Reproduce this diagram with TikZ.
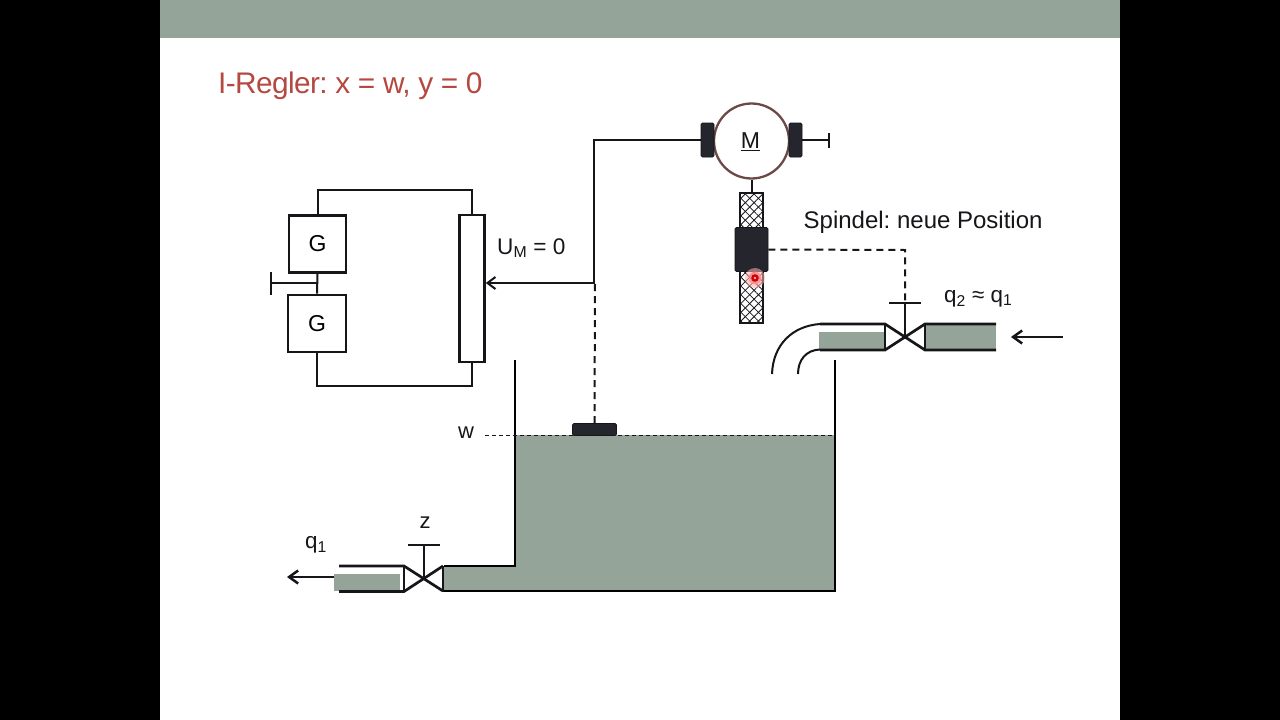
\documentclass[tikz,border=0pt]{standalone}
\usepackage{fontspec}
\setmainfont{Liberation Sans}
\usetikzlibrary{patterns.meta,arrows.meta}
\definecolor{band}{HTML}{95A498}
\definecolor{ink}{HTML}{16161A}
\definecolor{dark}{HTML}{25252E}
\definecolor{titlered}{HTML}{B5483F}
\definecolor{ring}{HTML}{6B4A46}
\tikzset{
  x=1pt,y=-1pt,
  wire/.style={draw=ink,line width=2pt},
  thick wire/.style={draw=ink,line width=2.7pt},
  genbox/.style={draw=ink,line width=2.6pt,fill=white,minimum width=57pt,minimum height=57pt,inner sep=0pt,font=\fontsize{23}{25}\selectfont},
  txt/.style={inner sep=0pt,text=ink,font=\fontsize{24}{28}\selectfont},
  fluid/.style={fill=band,draw=none},
  darkpart/.style={fill=dark,draw=ink,line width=.8pt,rounded corners=1.5pt},
  arrowline/.style={draw=ink,line width=2.5pt,-{Straight Barb[length=9pt,width=13pt,line width=2.5pt]}},
  thin arrow/.style={draw=ink,line width=1.9pt,-{Straight Barb[length=8pt,width=12pt,line width=2pt]}},
  dashline/.style={draw=ink,line width=2pt,dash pattern=on 7pt off 5pt},
  levelline/.style={draw=ink,line width=1pt,dash pattern=on 4pt off 3pt},
}
\begin{document}
\frenchspacing
\begin{tikzpicture}
\useasboundingbox (0,0) rectangle (1280,720);
% slide
\fill[black] (0,0) rectangle (1280,720);
\fill[white] (160,0) rectangle (1120,720);
\fill[band] (160,0) rectangle (1120,38);
\node[anchor=west,inner sep=0pt,text=titlered,font=\fontsize{29.8}{34}\selectfont] (title) at (218,85.5) {\addfontfeatures{LetterSpace=-2}I-Regler: x = w, y = 0};
% generators and potentiometer
\node[genbox] (g1) at (317.5,244) {G};
\node[genbox,minimum width=58pt] (g2) at (317,323.5) {G};
\node[draw=ink,line width=2.6pt,fill=white,minimum width=25pt,minimum height=147pt,inner sep=0pt] (pot) at (472,288.5) {};
\draw[wire] (g1.north) -- ++(0,-24) -| (pot.north);
\draw[wire] (g2.south) -- ++(0,33) -| (pot.south);
\draw[wire] (g1.south) -- (g2.north);
\coordinate (gnd) at (271,283);
\draw[wire] (gnd) -- (317,283);
\draw[wire] (271,272) -- (271,295);
\node[txt,anchor=west,font=\fontsize{22.6}{28}\selectfont] (um) at (497,248) {U\textsubscript{M} = 0};
% motor
\node[draw=ring,line width=2.3pt,fill=white,circle,minimum size=75pt,inner sep=0pt] (motor) at (751.5,141) {};
\node[txt,font=\fontsize{23}{25}\selectfont] (mlabel) at (750.5,141.5) {\underline{M}};
\node[darkpart,minimum width=13pt,minimum height=34pt,inner sep=0pt] (brl) at (707.5,140) {};
\node[darkpart,minimum width=13pt,minimum height=34pt,inner sep=0pt] (brr) at (795.5,140) {};
\draw[wire] (brr.east) -- (829,140);
\draw[wire] (829,133) -- (829,148);
% wiper
\coordinate (wiper) at (595,283);
\draw[thin arrow] (wiper) -- (pot.east |- wiper);
\draw[wire] (brl.west) -- (594,140) -- (594,283);
% spindle
\node[draw=none,minimum width=23pt,minimum height=130pt,inner sep=0pt,pattern={Lines[angle=45,distance=6.2pt,line width=.8pt]},pattern color=ink] (spindle) at (751.5,258) {};
\node[draw=ink,line width=2.4pt,minimum width=23pt,minimum height=130pt,inner sep=0pt,pattern={Lines[angle=-45,distance=6.2pt,line width=.8pt]},pattern color=ink] (spindle2) at (751.5,258) {};
\draw[wire] (motor.south) -- (spindle2.north);
\node[darkpart,minimum width=33pt,minimum height=44pt,inner sep=0pt] (nut) at (751.5,249.5) {};
\fill[red!30,opacity=.55] (755,278) circle (10);
\fill[red!45,opacity=.8] (755,278) circle (6.5);
\fill[red!80!black] (755,278) circle (3.8);
\fill[red!30] (755,278) circle (1.3);
\node[txt,anchor=west] (spl) at (803.5,222.5) {Spindel: neue Position};
% right valve and inlet
\fill[fluid] (819,332) rectangle (884,350);
\fill[fluid] (926,325) rectangle (996,350);
\draw[thick wire] (820,324) -- (885,324) -- (925,350) -- (996,350);
\draw[thick wire] (820,350) -- (885,350) -- (925,324) -- (996,324);
\draw[thick wire] (885,324) -- (885,350);
\draw[thick wire] (925,324) -- (925,350);
\draw[thick wire] (905,337) -- (905,303);
\draw[thick wire] (889,303) -- (921,303);
\draw[wire] (820,324) .. controls (792,326) and (773,345) .. (772,374);
\draw[wire] (820,349.5) .. controls (806,350) and (798,360) .. (798,374);
\coordinate (inarrow) at (1063,337);
\draw[arrowline] (inarrow) -- (1011,337);
\node[txt,anchor=west,font=\fontsize{22.4}{26}\selectfont] (q2) at (944,298.5) {q\textsubscript{2} ≈ q\textsubscript{1}};
\draw[dashline] (nut.east) -- (905,250) -- (905,303);
% tank
\fill[fluid] (515,435) -- (834,435) -- (834,591) -- (444,591) -- (444,566) -- (515,566) -- cycle;
\draw[line width=2.4pt,draw=black] (515,360) -- (515,566) -- (444,566);
\draw[line width=2.4pt,draw=black] (835,360) -- (835,591) -- (442,591);
% float
\node[darkpart,minimum width=44pt,minimum height=12pt,inner sep=0pt] (float) at (594.5,429.5) {};
\draw[dashline] (float.north) -- (wiper);
\node[txt,font=\fontsize{22}{24}\selectfont] (w) at (466,433) {w};
\draw[levelline] (485,435) -- (833,435);
% left valve and outlet
\fill[fluid] (334,574) rectangle (400,591);
\draw[thick wire] (339,566) -- (404,566) -- (443,591);
\draw[thick wire] (339,591.5) -- (404,591.5) -- (443,566);
\draw[thick wire] (404,566) -- (404,591.5);
\draw[thick wire] (443,566) -- (443,591.5);
\draw[thick wire] (424,578) -- (424,545);
\draw[thick wire] (408,545) -- (440,545);
\node[txt,font=\fontsize{22}{24}\selectfont] (z) at (425,523) {z};
\node[txt,anchor=west,font=\fontsize{22.4}{26}\selectfont] (q1) at (305,545) {q\textsubscript{1}};
\coordinate (outarrow) at (334,577);
\draw[arrowline] (outarrow) -- (287,577);
\end{tikzpicture}
\end{document}
